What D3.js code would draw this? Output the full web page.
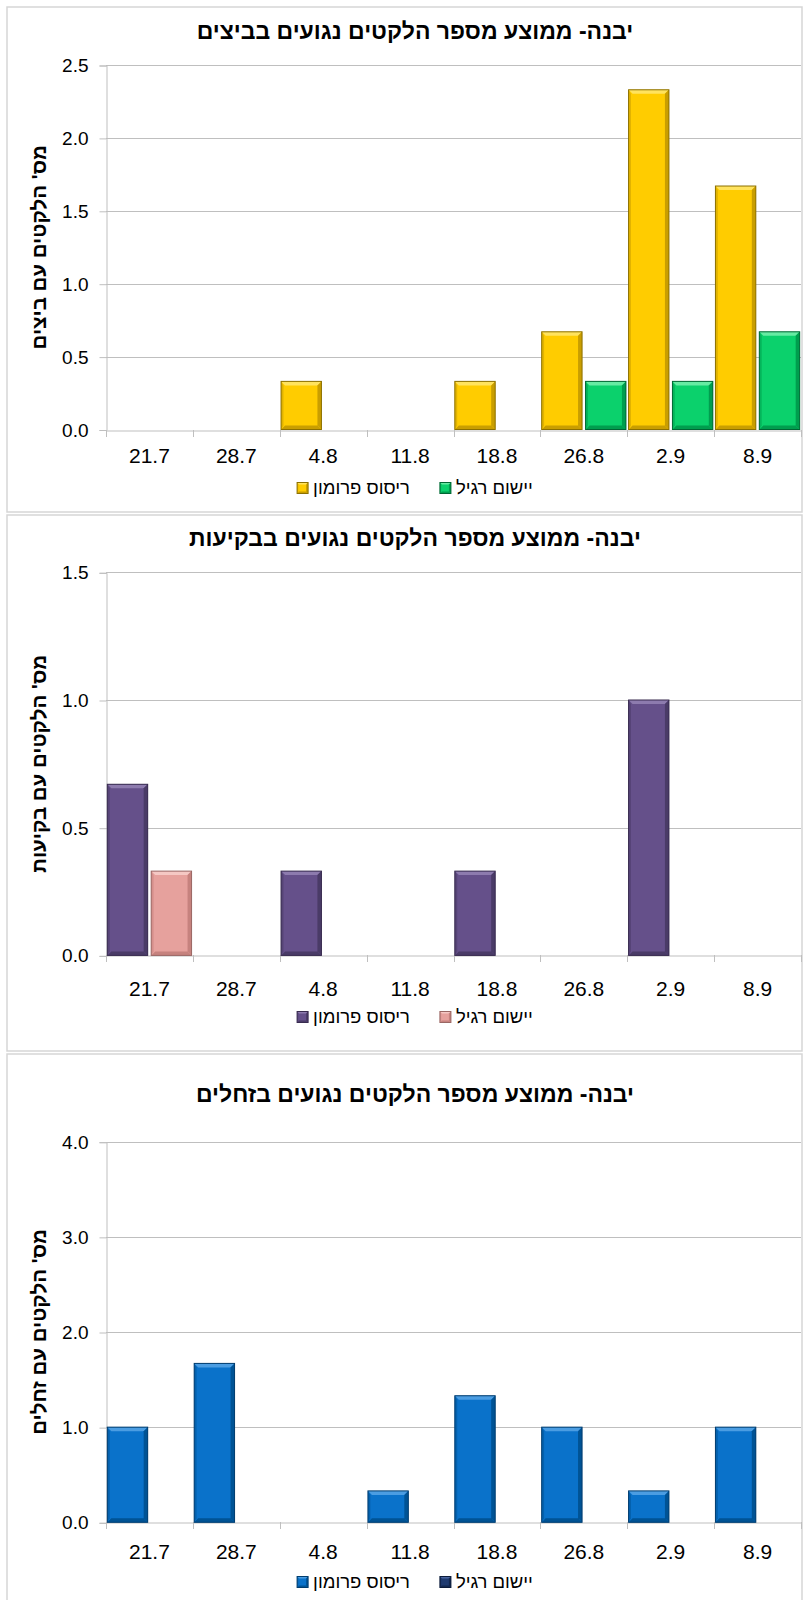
<!DOCTYPE html>
<html>
<head>
<meta charset="utf-8">
<script src="https://cdn.jsdelivr.net/npm/d3@7"></script>
<style>
  html, body { margin: 0; padding: 0; background: #ffffff; }
  svg { display: block; }
  text { font-family: "Liberation Sans", Arial, "DejaVu Sans", sans-serif; fill: #000; }
</style>
</head>
<body>
<svg id="chart" width="804" height="1600"></svg>
<script>
// ---------------- DATA ----------------
const categories = ["21.7", "28.7", "4.8", "11.8", "18.8", "26.8", "2.9", "8.9"];
const seriesNames = ["ריסוס פרומון", "יישום רגיל"];

const chartTitles = [
  "יבנה- ממוצע מספר הלקטים נגועים בביצים",
  "יבנה- ממוצע מספר הלקטים נגועים בבקיעות",
  "יבנה- ממוצע מספר הלקטים נגועים בזחלים"
];
const yAxisTitles = [
  "מס' הלקטים עם ביצים",
  "מס' הלקטים עם בקיעות",
  "מס' הלקטים עם זחלים"
];

const eggsPheromone = [0, 0, 0.33, 0, 0.33, 0.67, 2.33, 1.67];
const eggsRegular   = [0, 0, 0, 0, 0, 0.33, 0.33, 0.67];
const hatchPheromone = [0.67, 0, 0.33, 0, 0.33, 0, 1.0, 0];
const hatchRegular   = [0.33, 0, 0, 0, 0, 0, 0, 0];
const larvaePheromone = [1.0, 1.67, 0, 0.33, 1.33, 1.0, 0.33, 1.0];
const larvaeRegular   = [0, 0, 0, 0, 0, 0, 0, 0];

const eggsTicks   = [0, 0.5, 1.0, 1.5, 2.0, 2.5];
const hatchTicks  = [0, 0.5, 1.0, 1.5];
const larvaeTicks = [0, 1.0, 2.0, 3.0, 4.0];

// ---------------- STYLE / LAYOUT ----------------
const palettes = [
  [ {base:"#FFCC00", hi:"#FFE35E", dk:"#C99E00", st:"#8C7000"},
    {base:"#0BD16C", hi:"#66EBA3", dk:"#009E4E", st:"#006633"} ],
  [ {base:"#65508A", hi:"#8D7BAE", dk:"#4A3B67", st:"#382B4F"},
    {base:"#E6A19D", hi:"#F5C8C4", dk:"#C6827E", st:"#9A6764"} ],
  [ {base:"#0A72CA", hi:"#4B9DE2", dk:"#005395", st:"#003C6E"},
    {base:"#1F3B70", hi:"#4A66A0", dk:"#13284F", st:"#0C1C3A"} ]
];

const panels = [
  {top: 7,    bottom: 512,  titleY: 31,   plotTop: 65,     plotBottom: 429.5,  xLabelY: 455,  legendY: 488,
   values: [eggsPheromone, eggsRegular], ticks: eggsTicks},
  {top: 515,  bottom: 1051, titleY: 538,  plotTop: 572.3,  plotBottom: 955.4,  xLabelY: 988,  legendY: 1017,
   values: [hatchPheromone, hatchRegular], ticks: hatchTicks},
  {top: 1054, bottom: 1640, titleY: 1094, plotTop: 1141.7, plotBottom: 1522.3, xLabelY: 1551, legendY: 1582,
   values: [larvaePheromone, larvaeRegular], ticks: larvaeTicks}
];

const plotLeft = 106, plotRight = 801;
const centerX = 415;
const gridColor = "#BFBFBF";

const svg = d3.select("#chart");

function bevelBar(g, x, y, w, h, c, b) {
  b = Math.min(b, w / 3, h / 2.5);
  g.append("rect").attr("x", x).attr("y", y).attr("width", w).attr("height", h).attr("fill", c.base);
  g.append("polygon").attr("points", [[x,y],[x+w,y],[x+w-b,y+b],[x+b,y+b]].join(" ")).attr("fill", c.hi);
  g.append("polygon").attr("points", [[x+w,y],[x+w,y+h],[x+w-b,y+h-b],[x+w-b,y+b]].join(" ")).attr("fill", c.dk);
  g.append("polygon").attr("points", [[x,y+h],[x+w,y+h],[x+w-b,y+h-b],[x+b,y+h-b]].join(" ")).attr("fill", c.dk);
  g.append("polygon").attr("points", [[x,y],[x+b*0.6,y+b],[x+b*0.6,y+h-b],[x,y+h]].join(" ")).attr("fill", c.dk).attr("opacity", 0.55);
  g.append("rect").attr("x", x).attr("y", y).attr("width", w).attr("height", h)
    .attr("fill", "none").attr("stroke", c.st).attr("stroke-width", 1);
}

panels.forEach((p, pi) => {
  const g = svg.append("g");

  g.append("rect").attr("x", 7).attr("y", p.top).attr("width", 795).attr("height", p.bottom - p.top)
    .attr("fill", "#fff").attr("stroke", "#D6D6D6").attr("stroke-width", 1.5);

  const x0 = d3.scaleBand().domain(categories).range([plotLeft, plotRight]).padding(0);
  const x1 = d3.scaleBand().domain(seriesNames).range([0, x0.bandwidth()]).paddingInner(0.08).paddingOuter(0.03);
  const yMax = p.ticks[p.ticks.length - 1];
  const y = d3.scaleLinear().domain([0, yMax]).range([p.plotBottom, p.plotTop]);

  g.append("g").selectAll("line").data(p.ticks.filter(t => t > 0)).join("line")
    .attr("x1", plotLeft).attr("x2", plotRight)
    .attr("y1", d => Math.round(y(d)) + 0.5).attr("y2", d => Math.round(y(d)) + 0.5)
    .attr("stroke", gridColor).attr("stroke-width", 1);

  const yAxis = d3.axisLeft(y).tickValues(p.ticks).tickFormat(d3.format(".1f")).tickSize(7).tickPadding(11);
  const ya = g.append("g").attr("transform", `translate(${plotLeft + 0.5},0.5)`).call(yAxis);
  ya.select(".domain").attr("stroke", gridColor);
  ya.selectAll(".tick line").attr("stroke", gridColor);
  ya.selectAll(".tick text").attr("font-size", 19).attr("fill", "#1a1a1a")
    .style("font-family", '"Liberation Sans", Arial, sans-serif');

  const xAxis = d3.axisBottom(x0).tickSize(0).tickPadding(0);
  const xa = g.append("g").attr("transform", `translate(0,${Math.round(p.plotBottom) + 0.5})`).call(xAxis);
  xa.select(".domain").attr("stroke", gridColor);
  xa.selectAll(".tick text").attr("font-size", 21).attr("fill", "#1a1a1a")
    .attr("y", p.xLabelY - Math.round(p.plotBottom)).attr("dy", "0.35em")
    .style("font-family", '"Liberation Sans", Arial, sans-serif');
  const bounds = categories.map(c => x0(c)).concat([plotRight]);
  g.append("g").selectAll("line").data(bounds).join("line")
    .attr("x1", d => Math.round(d) + 0.5).attr("x2", d => Math.round(d) + 0.5)
    .attr("y1", Math.round(p.plotBottom)).attr("y2", Math.round(p.plotBottom) + 7)
    .attr("stroke", gridColor);

  const barsG = g.append("g");
  categories.forEach((cat, ci) => {
    seriesNames.forEach((s, si) => {
      const v = p.values[si][ci];
      if (v > 0) {
        const bx = x0(cat) + x1(s);
        const by = y(v);
        bevelBar(barsG, bx, by, x1.bandwidth(), y(0) - by, palettes[pi][si], 4);
      }
    });
  });

  g.append("text").attr("x", centerX).attr("y", p.titleY).attr("dy", "0.35em")
    .attr("text-anchor", "middle").attr("font-size", 23).attr("font-weight", "bold")
    .text(chartTitles[pi]);

  g.append("text")
    .attr("transform", `translate(46,${(p.plotTop + p.plotBottom) / 2}) rotate(-90)`)
    .attr("text-anchor", "middle").attr("font-size", 20.5).attr("font-weight", "bold")
    .text(yAxisTitles[pi]);

  const lg = g.append("g");
  const items = seriesNames.map((s, si) => {
    const t = lg.append("text").attr("y", p.legendY).attr("dy", "0.35em")
      .attr("font-size", 18.5).attr("fill", "#1a1a1a").text(s);
    return {t, w: t.node().getComputedTextLength(), si};
  });
  const box = 11, boxGap = 5, itemGap = 30;
  const total = items.reduce((a, it) => a + box + boxGap + it.w, 0) + itemGap * (items.length - 1);
  let cx = centerX - total / 2;
  items.forEach(it => {
    bevelBar(lg, cx, p.legendY - box / 2, box, box, palettes[pi][it.si], 2);
    it.t.attr("x", cx + box + boxGap);
    cx += box + boxGap + it.w + itemGap;
  });
});
</script>
</body>
</html>
